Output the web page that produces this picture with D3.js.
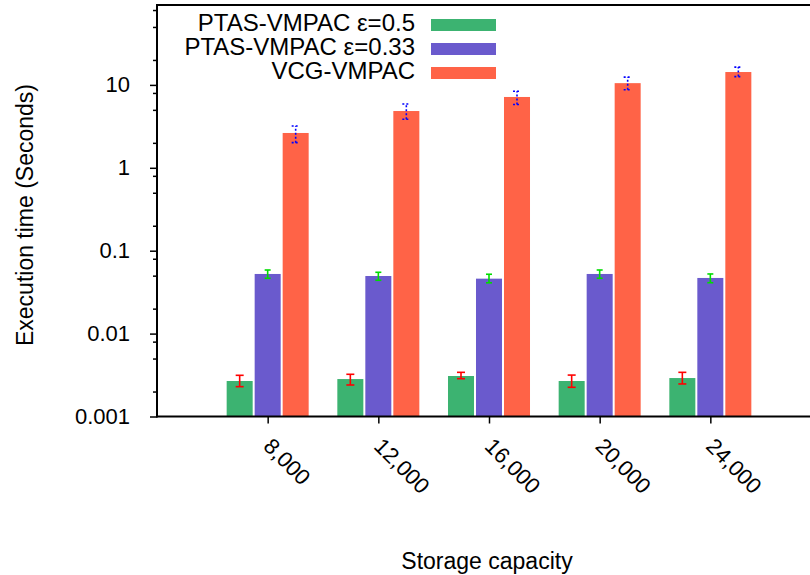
<!DOCTYPE html>
<html><head><meta charset="utf-8">
<script src="https://cdn.jsdelivr.net/npm/d3@7"></script>
<style>
body{margin:0;background:#fff}
text{font-family:"Liberation Sans",Arial,Helvetica,sans-serif;fill:#000}
</style></head>
<body><svg id="chart" width="810" height="575"></svg>
<script>
// ---- data ----
const categories = ["8,000","12,000","16,000","20,000","24,000"];
const seriesNames = ["PTAS-VMPAC \u03b5=0.5","PTAS-VMPAC \u03b5=0.33","VCG-VMPAC"];
const ptas05    = [0.00268,0.00283,0.00308,0.00268,0.00291];
const ptas05Lo  = [0.00229,0.00240,0.00286,0.00225,0.00247];
const ptas05Hi  = [0.00314,0.00323,0.00341,0.00316,0.00341];
const ptas033   = [0.0524,0.0495,0.0460,0.0524,0.0469];
const ptas033Lo = [0.0465,0.0440,0.0410,0.0465,0.0411];
const ptas033Hi = [0.0585,0.0549,0.0520,0.0585,0.0524];
const vcg       = [2.63,4.84,7.15,10.5,14.3];
const vcgLo     = [2.01,3.85,5.80,8.75,12.6];
const vcgHi     = [3.19,5.88,8.40,12.4,16.4];
const yTickValues = [0.001,0.01,0.1,1,10];
const yTickLabels = ["0.001","0.01","0.1","1","10"];
const yMinorTicks = [0.002,0.005,0.008,0.02,0.05,0.08,0.2,0.5,0.8,2,5,8,20,50,80];
const xTitle = "Storage capacity";
const yTitle = "Execution time (Seconds)";

// ---- layout ----
const svg = d3.select("#chart");
const L = 157, B = 416.5, T = 5, R = 821;
const x = d3.scaleLinear().domain([-1, 5]).range([L, R]);
const y = d3.scaleLog().domain([0.001, 100]).range([B, B - 5*82.9]);
const colors = ["#3cb371","#6a5acd","#ff6347"];
const errColors = ["#ff0000","#00dd00","#0000ff"];
const offsets = [-0.253, 0, 0.253];
const barW = x(0.235) - x(0);

const series = [
  {v: ptas05, lo: ptas05Lo, hi: ptas05Hi},
  {v: ptas033, lo: ptas033Lo, hi: ptas033Hi},
  {v: vcg, lo: vcgLo, hi: vcgHi}
];

const g = svg.append("g");
series.forEach((s, si) => {
  g.selectAll(null).data(s.v).enter().append("rect")
    .attr("x", (d,i) => x(i + offsets[si]) - barW/2)
    .attr("y", d => y(d))
    .attr("width", barW)
    .attr("height", d => B - y(d))
    .attr("fill", colors[si]);
});
// error bars
series.forEach((s, si) => {
  const capW = si === 1 ? 3 : 4;
  const eg = g.append("g").attr("stroke", errColors[si])
    .attr("stroke-width", 1.6)
    .attr("stroke-dasharray", si === 2 ? "2,2" : null)
    .attr("fill", "none");
  s.v.forEach((d, i) => {
    const cx = x(i + offsets[si]);
    const y0 = y(s.lo[i]), y1 = y(s.hi[i]);
    eg.append("line").attr("x1", cx).attr("x2", cx).attr("y1", y0).attr("y2", y1);
    eg.append("line").attr("x1", cx-capW).attr("x2", cx+capW).attr("y1", y0).attr("y2", y0);
    eg.append("line").attr("x1", cx-capW).attr("x2", cx+capW).attr("y1", y1).attr("y2", y1);
  });
});

// y axis
const yAxis = d3.axisLeft(y).tickValues(yTickValues)
  .tickFormat((d,i) => yTickLabels[i]).tickSize(7).tickPadding(20);
const ya = svg.append("g").attr("transform", `translate(${L},0)`).call(yAxis);
ya.select(".domain").remove();
ya.selectAll("text").style("font-size","22px").attr("fill","#000");
ya.selectAll("line").attr("stroke","#000").attr("stroke-width",1.5);
const yMinor = d3.axisLeft(y).tickValues(yMinorTicks).tickSize(4).tickFormat("");
const ym = svg.append("g").attr("transform", `translate(${L},0)`).call(yMinor);
ym.select(".domain").remove();
ym.selectAll("line").attr("stroke","#000").attr("stroke-width",1.5);

// x axis
const xAxis = d3.axisBottom(x).tickValues(d3.range(categories.length))
  .tickFormat("").tickSize(7);
const xa = svg.append("g").attr("transform", `translate(0,${B})`).call(xAxis);
xa.select(".domain").remove();
xa.selectAll("line").attr("stroke","#000").attr("stroke-width",1.5);
xa.selectAll(".tick").append("text")
  .attr("transform", "translate(-6,31) rotate(45)")
  .attr("text-anchor","start")
  .style("font-size","22px")
  .text((d,i) => categories[i]);

// frame lines
svg.append("line").attr("x1", L).attr("x2", 810).attr("y1", B).attr("y2", B)
  .attr("stroke","#000").attr("stroke-width",2);
svg.append("line").attr("x1", L).attr("x2", 810).attr("y1", T).attr("y2", T)
  .attr("stroke","#000").attr("stroke-width",2);
svg.append("line").attr("x1", L).attr("x2", L).attr("y1", T-1).attr("y2", B+1)
  .attr("stroke","#000").attr("stroke-width",2);

// titles
svg.append("text").attr("x", 487).attr("y", 569).attr("text-anchor","middle")
  .style("font-size","23px").text(xTitle);
svg.append("text").attr("transform","translate(33,215) rotate(-90)")
  .attr("text-anchor","middle").style("font-size","23px").text(yTitle);

// legend
const lg = svg.append("g");
seriesNames.forEach((n, i) => {
  const cy = 25 + i*24;
  lg.append("text").attr("x", 415).attr("y", cy + 6).attr("text-anchor","end")
    .style("font-size","24px").text(n);
  lg.append("rect").attr("x", 431).attr("y", cy - 6).attr("width", 65).attr("height", 12)
    .attr("fill", colors[i]);
});
</script></body></html>
